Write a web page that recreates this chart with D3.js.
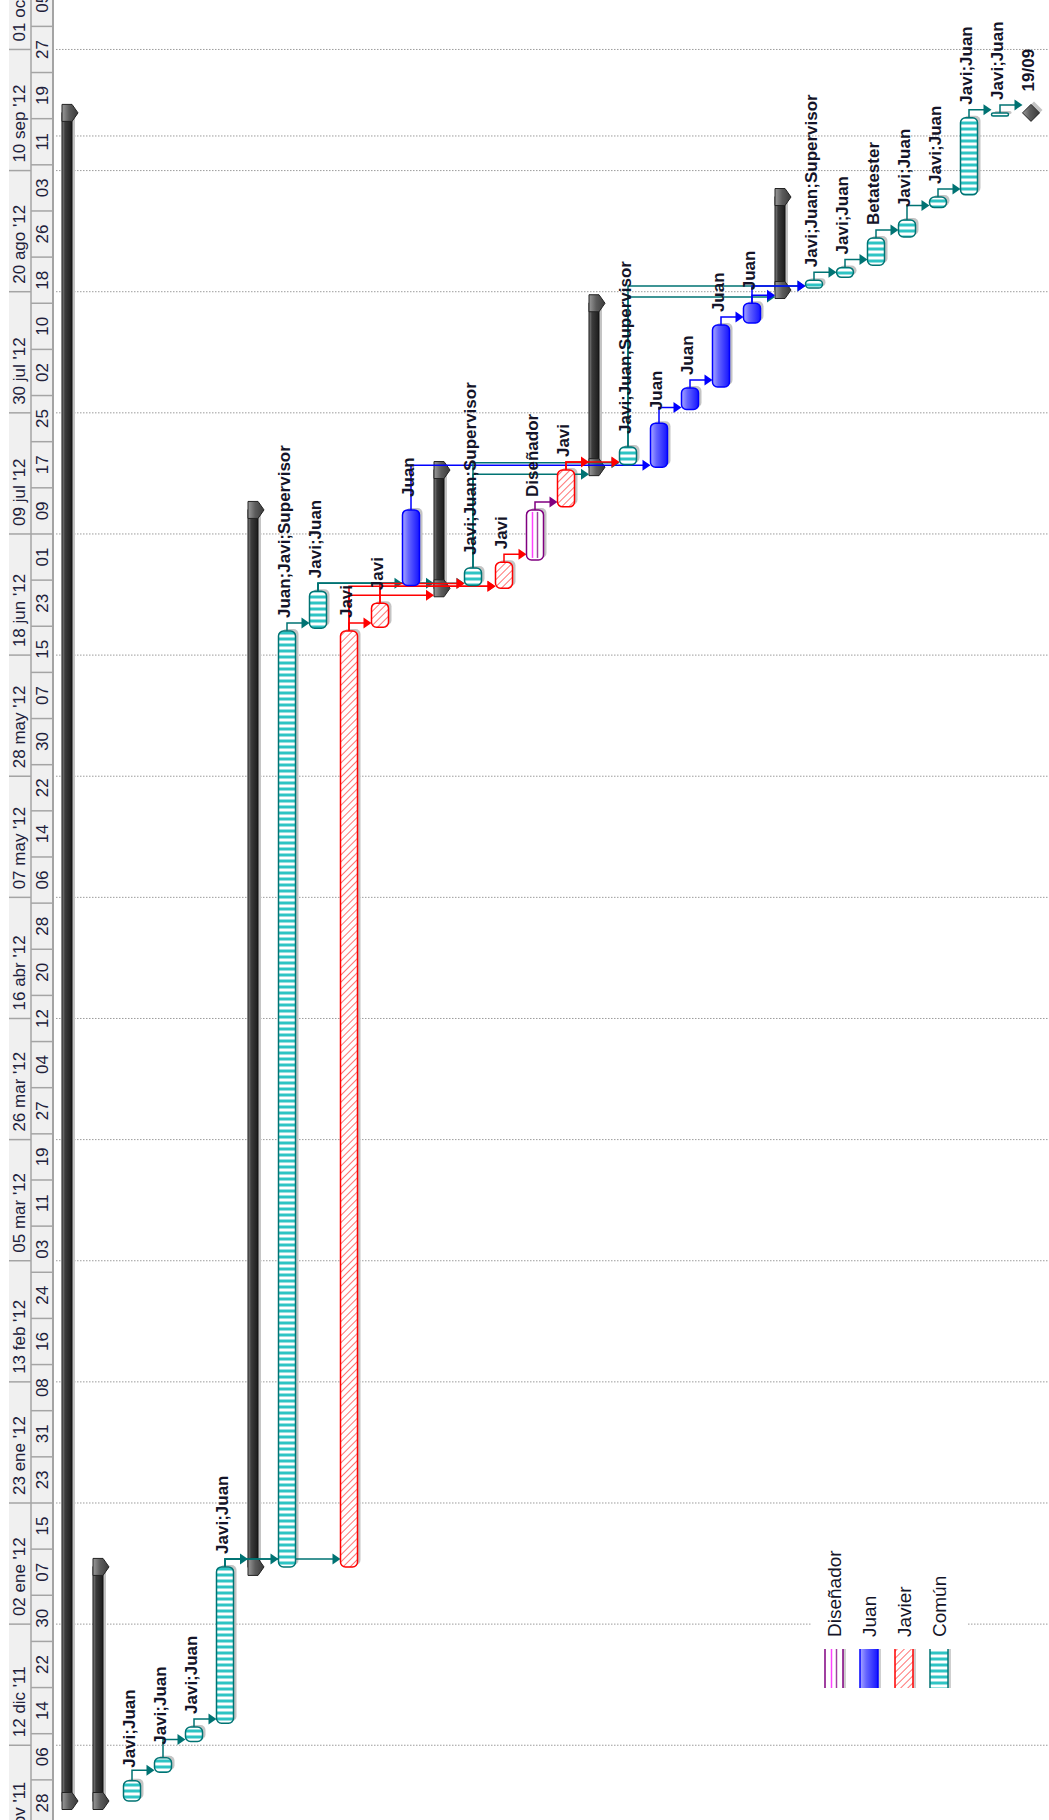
<!DOCTYPE html>
<html>
<head>
<meta charset="utf-8">
<script src="https://cdn.jsdelivr.net/npm/d3@7"></script>
<style>
  html, body { margin: 0; padding: 0; background: #fff; }
  svg { display: block; }
  text { font-family: "Liberation Sans", Arial, sans-serif; }
</style>
</head>
<body>
<svg id="chart" width="1049" height="1820"></svg>
<script>
// ---- Timescale tiers -------------------------------------------------------
const majorTicks = ["2011-11-21", "2011-12-12", "2012-01-02", "2012-01-23", "2012-02-13",
  "2012-03-05", "2012-03-26", "2012-04-16", "2012-05-07", "2012-05-28", "2012-06-18",
  "2012-07-09", "2012-07-30", "2012-08-20", "2012-09-10", "2012-10-01"];
const minorTicks = ["2011-11-20", "2011-11-28", "2011-12-06", "2011-12-14", "2011-12-22",
  "2011-12-30", "2012-01-07", "2012-01-15", "2012-01-23", "2012-01-31", "2012-02-08",
  "2012-02-16", "2012-02-24", "2012-03-03", "2012-03-11", "2012-03-19", "2012-03-27",
  "2012-04-04", "2012-04-12", "2012-04-20", "2012-04-28", "2012-05-06", "2012-05-14",
  "2012-05-22", "2012-05-30", "2012-06-07", "2012-06-15", "2012-06-23", "2012-07-01",
  "2012-07-09", "2012-07-17", "2012-07-25", "2012-08-02", "2012-08-10", "2012-08-18",
  "2012-08-26", "2012-09-03", "2012-09-11", "2012-09-19", "2012-09-27", "2012-10-05"];
const extraGridDates = ["2012-09-16"];
const monthNames = ["ene", "feb", "mar", "abr", "may", "jun", "jul", "ago", "sep", "oct", "nov", "dic"];

// ---- Tasks, one per row -----------------------------------------------------
const rowKinds = ["summary", "summary", "comun", "comun", "comun", "comun",
  "summary", "comun", "comun", "javier", "javier", "juan",
  "summary", "comun", "javier", "disenador", "javier",
  "summary", "comun", "juan", "juan", "juan", "juan",
  "summary", "comun", "comun", "comun", "comun", "comun", "comun", "comun", "milestone"];
const rowLabels = ["", "", "Javi;Juan", "Javi;Juan", "Javi;Juan", "Javi;Juan",
  "", "Juan;Javi;Supervisor", "Javi;Juan", "Javi", "Javi", "Juan",
  "", "Javi;Juan;Supervisor", "Javi", "Diseñador", "Javi",
  "", "Javi;Juan;Supervisor", "Juan", "Juan", "Juan", "Juan",
  "", "Javi;Juan;Supervisor", "Javi;Juan", "Betatester", "Javi;Juan", "Javi;Juan",
  "Javi;Juan", "Javi;Juan", "19/09"];
const rowStarts = ["2011-12-02 08:00", "2011-12-02 08:00", "2011-12-02 08:00",
  "2011-12-07 08:00", "2011-12-12 16:00", "2011-12-15 20:00",
  "2012-01-11 22:00", "2012-01-11 22:00", "2012-06-22 16:00", "2012-01-11 22:00",
  "2012-06-22 20:00", "2012-06-30 02:00",
  "2012-06-29 14:00", "2012-06-30 02:00", "2012-06-29 14:00", "2012-07-04 12:00",
  "2012-07-13 17:00",
  "2012-07-20 14:00", "2012-07-21 00:00", "2012-07-20 14:00", "2012-07-30 14:00",
  "2012-08-03 12:00", "2012-08-14 14:00",
  "2012-08-20 07:00", "2012-08-20 15:00", "2012-08-22 12:00", "2012-08-24 14:00",
  "2012-08-29 12:00", "2012-09-03 14:00", "2012-09-05 19:00", "2012-09-19 11:00",
  "2012-09-20 00:00"];
const rowFinishes = ["2012-09-20 00:00", "2012-01-11 22:00", "2011-12-05 20:00",
  "2011-12-09 20:00", "2011-12-15 04:00", "2012-01-11 22:00",
  "2012-07-13 04:00", "2012-06-22 04:00", "2012-06-29 02:00", "2012-06-22 04:00",
  "2012-06-27 00:00", "2012-07-13 04:00",
  "2012-07-20 02:00", "2012-07-03 02:00", "2012-07-04 02:00", "2012-07-13 04:00",
  "2012-07-20 02:00",
  "2012-08-18 00:00", "2012-07-24 02:00", "2012-07-28 05:00", "2012-08-03 07:00",
  "2012-08-14 05:00", "2012-08-18 00:00",
  "2012-09-05 10:00", "2012-08-22 00:00", "2012-08-24 05:00", "2012-08-29 07:00",
  "2012-09-01 10:00", "2012-09-05 10:00", "2012-09-19 04:00", "2012-09-20 00:00",
  "2012-09-20 00:00"];

// Finish-to-start dependencies [predecessor row, successor row]
const links = [[2, 3], [3, 4], [4, 5], [5, 6], [5, 7], [5, 9], [7, 8],
  [8, 11], [8, 12], [8, 13], [9, 10], [9, 12], [9, 14], [10, 13], [10, 14],
  [11, 19], [13, 17], [13, 18], [14, 15], [15, 16], [16, 17], [16, 18],
  [18, 23], [18, 24], [19, 20], [20, 21], [21, 22], [22, 23], [22, 24],
  [24, 25], [25, 26], [26, 27], [27, 28], [28, 29], [29, 30], [30, 31]];

// Resource legend
const legendNames = ["Diseñador", "Juan", "Javier", "Común"];
const legendKinds = ["disenador", "juan", "javier", "comun"];

// ---- Scales -----------------------------------------------------------------
const parseTime = d3.utcParse("%Y-%m-%d %H:%M");
const parseDay = d3.utcParse("%Y-%m-%d");
const pxPerDay = 5.768;
const y = d3.scaleUtc()
  .domain([parseDay("2011-11-28"), parseDay("2012-10-01")])
  .range([1826, 1826 - 308 * pxPerDay]);
const x = d3.scaleLinear().domain([0, 31]).range([70, 1031]);

const linkColor = { comun: "#007373", javier: "#ff0000", juan: "#0000ff", disenador: "#800080" };
const outline = { comun: "#007373", javier: "#ff0000", juan: "#0000ff", disenador: "#800080" };

const tasks = rowKinds.map((k, i) => ({
  i, kind: k, label: rowLabels[i],
  start: parseTime(rowStarts[i]), finish: parseTime(rowFinishes[i])
}));

const svg = d3.select("#chart");
const defs = svg.append("defs");

// Común: ladder stripes
const pC = defs.append("pattern").attr("id", "pComun").attr("patternUnits", "userSpaceOnUse")
  .attr("width", 20).attr("height", 6);
pC.append("rect").attr("width", 20).attr("height", 6).attr("fill", "#fff");
pC.append("rect").attr("y", 1.5).attr("width", 20).attr("height", 3).attr("fill", "#2ec4c4");

// Javier: diagonal hatching
const pJ = defs.append("pattern").attr("id", "pJavier").attr("patternUnits", "userSpaceOnUse")
  .attr("width", 5).attr("height", 5).attr("patternTransform", "rotate(45)");
pJ.append("rect").attr("width", 5).attr("height", 5).attr("fill", "#fff");
pJ.append("line").attr("x1", 0).attr("y1", 0).attr("x2", 0).attr("y2", 5)
  .attr("stroke", "#ff5050").attr("stroke-width", 1.6);

// Juan: shaded blue
const gJ = defs.append("linearGradient").attr("id", "gJuan").attr("x1", 0).attr("x2", 1).attr("y1", 0).attr("y2", 0);
gJ.append("stop").attr("offset", 0).attr("stop-color", "#a8a8ff");
gJ.append("stop").attr("offset", 0.35).attr("stop-color", "#6464ff");
gJ.append("stop").attr("offset", 1).attr("stop-color", "#1414ff");

// Summary and milestone shading
const gS = defs.append("linearGradient").attr("id", "gSum").attr("x1", 0).attr("x2", 1).attr("y1", 0).attr("y2", 0);
gS.append("stop").attr("offset", 0).attr("stop-color", "#8c8c8c");
gS.append("stop").attr("offset", 0.3).attr("stop-color", "#3c3c3c");
gS.append("stop").attr("offset", 1).attr("stop-color", "#1c1c1c");
const gCap = defs.append("linearGradient").attr("id", "gCap").attr("x1", 0).attr("x2", 1).attr("y1", 0).attr("y2", 0);
gCap.append("stop").attr("offset", 0).attr("stop-color", "#9a9a9a");
gCap.append("stop").attr("offset", 0.45).attr("stop-color", "#5c5c5c");
gCap.append("stop").attr("offset", 1).attr("stop-color", "#3a3a3a");

const fillFor = { comun: "url(#pComun)", javier: "url(#pJavier)", juan: "url(#gJuan)", disenador: "#fff" };

// ---- Gridlines --------------------------------------------------------------
const gridDates = majorTicks.map(parseDay).concat(extraGridDates.map(parseDay));
svg.append("g").selectAll("line").data(gridDates).join("line")
  .attr("x1", 56).attr("x2", 1049)
  .attr("y1", d => y(d)).attr("y2", d => y(d))
  .attr("stroke", "#9c9c9c").attr("stroke-width", 1).attr("stroke-dasharray", "1.5,1.5");

// ---- Timescale header ---------------------------------------------------------
const hdr = svg.append("g");
hdr.append("rect").attr("x", 9).attr("y", 0).attr("width", 44).attr("height", 1820).attr("fill", "#f0f0f0");
const majorDates = majorTicks.map(parseDay);
const minorDates = minorTicks.map(parseDay);
hdr.selectAll(".maj").data(majorDates).join("line")
  .attr("x1", 9).attr("x2", 31).attr("y1", d => y(d)).attr("y2", d => y(d))
  .attr("stroke", "#a4a4a4").attr("stroke-width", 1.5);
hdr.selectAll(".min").data(minorDates).join("line")
  .attr("x1", 31).attr("x2", 53).attr("y1", d => y(d)).attr("y2", d => y(d))
  .attr("stroke", "#a4a4a4").attr("stroke-width", 1.5);
hdr.append("line").attr("x1", 31).attr("x2", 31).attr("y1", 0).attr("y2", 1820)
  .attr("stroke", "#a4a4a4").attr("stroke-width", 1.5);
hdr.append("line").attr("x1", 53).attr("x2", 53).attr("y1", 0).attr("y2", 1820)
  .attr("stroke", "#a4a4a4").attr("stroke-width", 2);

const dayFmt = d3.utcFormat("%d");
const yrFmt = d3.utcFormat("%y");
hdr.selectAll(".majText").data(majorDates).join("text")
  .attr("transform", d => `translate(25,${y(d) - 8}) rotate(-90)`)
  .attr("font-size", 17).attr("fill", "#20203a")
  .text(d => `${dayFmt(d)} ${monthNames[d.getUTCMonth()]} '${yrFmt(d)}`);
hdr.selectAll(".minText").data(minorDates).join("text")
  .attr("transform", d => `translate(48,${y(d) - 4 * pxPerDay}) rotate(-90)`)
  .attr("text-anchor", "middle")
  .attr("font-size", 17).attr("fill", "#20203a")
  .text(d => dayFmt(d));

// ---- Bars ---------------------------------------------------------------------
const shadowG = svg.append("g").attr("fill", "#c4c4c4");
const sumG = svg.append("g");
const linkG = svg.append("g");
const barG = svg.append("g");
const labelG = svg.append("g");

function capPath(c, yc) {
  return `M${c - 8},${yc - 8.5}H${c + 2}L${c + 8},${yc}L${c + 2},${yc + 8.5}H${c - 8}Z`;
}

tasks.forEach(t => {
  const c = x(t.i), ys = y(t.start), yf = y(t.finish);
  if (t.kind === "summary") {
    shadowG.append("rect").attr("x", c - 5).attr("y", yf - 3).attr("width", 10).attr("height", ys - yf);
    sumG.append("rect").attr("x", c - 8).attr("y", yf).attr("width", 10).attr("height", ys - yf)
      .attr("fill", "url(#gSum)").attr("stroke", "#111").attr("stroke-width", 1);
    [ys, yf].forEach(yc => {
      sumG.append("path").attr("d", capPath(c, yc))
        .attr("fill", "url(#gCap)").attr("stroke", "#222").attr("stroke-width", 1);
    });
  } else if (t.kind === "milestone") {
    const r = 8.5;
    shadowG.append("path").attr("d", `M${c + 3},${yf - 3 - r}L${c + 3 + r},${yf - 3}L${c + 3},${yf - 3 + r}L${c + 3 - r},${yf - 3}Z`);
    barG.append("path").attr("d", `M${c},${yf - r}L${c + r},${yf}L${c},${yf + r}L${c - r},${yf}Z`)
      .attr("fill", "url(#gCap)").attr("stroke", "#222").attr("stroke-width", 1);
  } else {
    const h = Math.max(ys - yf, 3);
    const rr = Math.min(5, h / 2);
    shadowG.append("rect").attr("x", c - 8.5 + 3).attr("y", yf - 2).attr("width", 17).attr("height", h)
      .attr("rx", rr).attr("ry", rr);
    barG.append("rect").attr("x", c - 8.5).attr("y", yf).attr("width", 17).attr("height", h)
      .attr("rx", rr).attr("ry", rr)
      .attr("fill", fillFor[t.kind]).attr("stroke", outline[t.kind]).attr("stroke-width", 1.5);
    if (t.kind === "disenador") {
      [[-2.5, "#ff40ff"], [2.5, "#a040a0"]].forEach(([dx, col]) => {
        barG.append("line").attr("x1", c + dx).attr("x2", c + dx)
          .attr("y1", yf + 2).attr("y2", yf + h - 2)
          .attr("stroke", col).attr("stroke-width", 1.5);
      });
    }
  }
});

// ---- Dependency links -----------------------------------------------------------
links.forEach(([p, s]) => {
  const pt = tasks[p], st = tasks[s];
  const px = x(p), py = y(pt.finish);
  const anchor = st.kind === "summary" ? y(st.start) + 7 : y(st.start) - 2;
  const yl = Math.min(anchor, py - 8);
  const tip = x(s) - (st.kind === "summary" ? 8 : 8.5);
  const col = linkColor[pt.kind];
  linkG.append("path").attr("d", `M${px},${py}V${yl}H${tip - 6}`)
    .attr("fill", "none").attr("stroke", col).attr("stroke-width", 1.5);
  linkG.append("path").attr("d", `M${tip},${yl}L${tip - 8},${yl - 5.5}L${tip - 8},${yl + 5.5}Z`)
    .attr("fill", col);
});

// ---- Bar labels -----------------------------------------------------------------
tasks.filter(t => t.label).forEach(t => {
  const c = x(t.i);
  const top = t.kind === "milestone" ? y(t.finish) - 8.5 : y(t.finish);
  labelG.append("text")
    .attr("transform", `translate(${c + 3},${top - 13}) rotate(-90)`)
    .attr("font-size", 17).attr("font-weight", "bold").attr("fill", "#141428")
    .text(t.label);
});

// ---- Legend ---------------------------------------------------------------------
const lg = svg.append("g");
lg.append("rect").attr("x", 812).attr("y", 1528).attr("width", 156).attr("height", 176).attr("fill", "#fff");
const lx = d3.scalePoint().domain(legendKinds).range([834, 939]);
legendKinds.forEach((k, i) => {
  const c = lx(k), y0 = 1649, y1 = 1688;
  lg.append("rect").attr("x", c - 9 + 3).attr("y", y0).attr("width", 18).attr("height", y1 - y0).attr("fill", "#cfcfcf");
  lg.append("rect").attr("x", c - 9).attr("y", y0).attr("width", 18).attr("height", y1 - y0).attr("fill", fillFor[k]);
  [c - 9, c + 9].forEach(xx => lg.append("line").attr("x1", xx).attr("x2", xx).attr("y1", y0).attr("y2", y1)
    .attr("stroke", outline[k]).attr("stroke-width", 1.5));
  if (k === "disenador") {
    [[-2.5, "#ff40ff"], [2.5, "#a040a0"]].forEach(([dx, col]) => {
      lg.append("line").attr("x1", c + dx).attr("x2", c + dx).attr("y1", y0).attr("y2", y1)
        .attr("stroke", col).attr("stroke-width", 1.5);
    });
  }
  lg.append("text").attr("transform", `translate(${c + 7},1637) rotate(-90)`)
    .attr("font-size", 19).attr("fill", "#141428").text(legendNames[i]);
});
</script>
</body>
</html>
